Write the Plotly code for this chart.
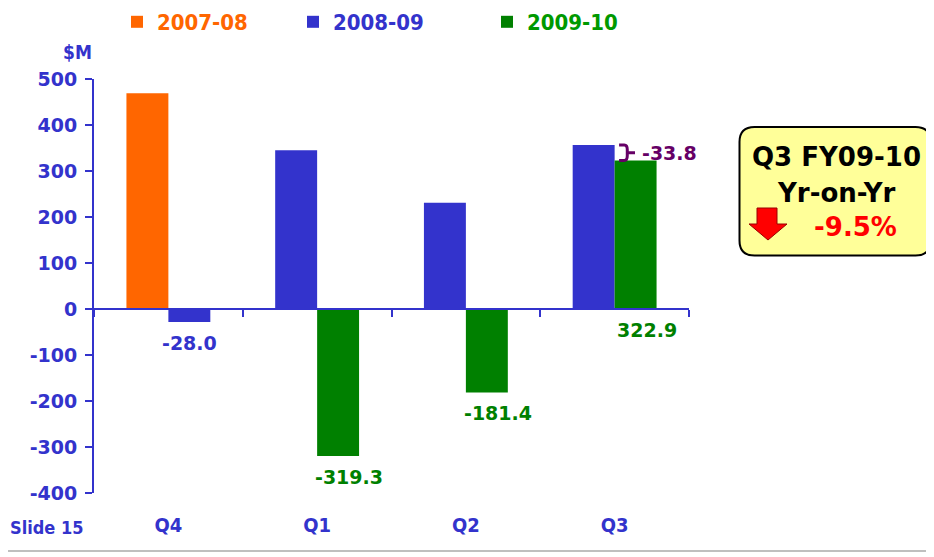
import plotly.graph_objects as go

# ---------------- data ----------------
quarters = ["Q4", "Q1", "Q2", "Q3"]
series_names = ["2007-08", "2008-09", "2009-10"]
fy0708_q = ["Q4"]
fy0708_vals = [469.0]
fy0809_q = ["Q4", "Q1", "Q2", "Q3"]
fy0809_vals = [-28.0, 345.0, 231.0, 356.7]
fy0910_q = ["Q1", "Q2", "Q3"]
fy0910_vals = [-319.3, -181.4, 322.9]
y_ticks = [500, 400, 300, 200, 100, 0, -100, -200, -300, -400]
y_tick_labels = [str(v) for v in y_ticks]
diff_label = "-33.8"
callout_lines = ["Q3 FY09-10", "Yr-on-Yr", "-9.5%"]

# ---------------- style ----------------
ORANGE = "#FF6600"
BLUE = "#3333CC"
GREEN = "#008000"
LGREEN = "#009900"
PURPLE = "#660066"
BW = 0.282  # bar width, in category units

OFF = 8  # page body margin
W, H = 934, 557
ML, MT = 94 - OFF, 79 - OFF
MR = W - (689 - OFF)
MB = H - (493 - OFF)
PW, PH = W - ML - MR, H - MT - MB


def px(x):  # page pixel -> paper
    return (x - OFF - ML) / PW


def py(y):
    return (H - MB - (y - OFF)) / PH


fig = go.Figure()
fig.add_bar(x=fy0708_q, y=fy0708_vals, name='<span style="color:%s">2007-08</span>' % ORANGE,
            marker_color=ORANGE, width=BW, offset=-BW, marker_line_width=0, legend="legend")
fig.add_bar(x=fy0809_q, y=fy0809_vals, name='<span style="color:%s">2008-09</span>' % BLUE,
            marker_color=BLUE, width=BW, offset=[0, -BW, -BW, -BW], marker_line_width=0, legend="legend2")
fig.add_bar(x=fy0910_q, y=fy0910_vals, name='<span style="color:%s">2009-10</span>' % LGREEN,
            marker_color=GREEN, width=BW, offset=0, marker_line_width=0, legend="legend3")
# helper trace so the zero-level axis (x2) knows the categories
fig.add_scatter(x=quarters, y=[None] * 4, xaxis="x2", showlegend=False, hoverinfo="skip")

ann = []
tick_font = dict(family="DejaVu Sans", size=19, color=BLUE, weight="bold")
idx = {q: i for i, q in enumerate(quarters)}
ann.append(dict(x=idx["Q4"] + BW / 2, y=fy0809_vals[0], text="%.1f" % fy0809_vals[0],
                showarrow=False, yshift=-21, font=dict(tick_font, color=BLUE)))
for q, v in zip(fy0910_q, fy0910_vals):
    yy = v if v < 0 else 0
    ann.append(dict(x=idx[q] + BW / 2, y=yy, text="%.1f" % v, showarrow=False,
                    yshift=-21, xshift=11, font=dict(tick_font, color=GREEN)))
top = fy0809_vals[3]
bot = fy0910_vals[2]
mid = (top + bot) / 2
ann.append(dict(x=3 + 0.37, y=mid, text=diff_label, showarrow=False,
                font=dict(tick_font, color=PURPLE)))
xa, xb, xc = 3.03, 3.085, 3.137
r = (top - bot) * 0.3
bracket = (f"M {xa},{top} L {xb - 0.02},{top} Q {xb},{top} {xb},{top - r} L {xb},{mid} L {xc},{mid} "
           f"M {xb},{mid} L {xb},{bot + r} Q {xb},{bot} {xb - 0.02},{bot} L {xa},{bot}")


def pann(x, y, text, font):
    return dict(xref="paper", yref="paper", x=px(x), y=py(y), xanchor="center", yanchor="middle",
                text=text, showarrow=False, font=font)


ann.append(pann(77, 52, "$M", dict(family="DejaVu Sans Condensed", size=19, color=BLUE, weight="bold")))
ann.append(pann(47, 527, "Slide 15", dict(family="DejaVu Sans Condensed", size=18, color=BLUE, weight="bold")))
ann.append(pann(836, 157, callout_lines[0], dict(family="DejaVu Sans", size=26, color="black", weight="bold")))
ann.append(pann(836, 193, callout_lines[1], dict(family="DejaVu Sans", size=26, color="black", weight="bold")))
ann.append(pann(856, 227, callout_lines[2], dict(family="DejaVu Sans", size=26, color="#FF0000", weight="bold")))


def rrect(x0, y0, x1, y1, rad):
    X0, X1 = px(x0), px(x1)
    Y0, Y1 = py(y0), py(y1)
    rx, ry = rad / PW, rad / PH
    return (f"M {X0 + rx},{Y0} L {X1 - rx},{Y0} Q {X1},{Y0} {X1},{Y0 - ry} "
            f"L {X1},{Y1 + ry} Q {X1},{Y1} {X1 - rx},{Y1} L {X0 + rx},{Y1} "
            f"Q {X0},{Y1} {X0},{Y1 + ry} L {X0},{Y0 - ry} Q {X0},{Y0} {X0 + rx},{Y0} Z")


arrow_pts = [(757, 208), (777, 208), (777, 224), (787, 224), (768, 240), (749, 224), (757, 224)]
arrow_path = "M " + " L ".join(f"{px(a)},{py(b)}" for a, b in arrow_pts) + " Z"

shapes = [
    dict(type="path", xref="paper", yref="paper", path=rrect(739.5, 127, 930.5, 255.5, 15),
         fillcolor="#FFFF99", line=dict(color="black", width=2)),
    dict(type="path", xref="paper", yref="paper", path=arrow_path,
         fillcolor="#FF0000", line=dict(color="#990000", width=1)),
    dict(type="path", xref="x", yref="y", path=bracket, line=dict(color=PURPLE, width=3)),
    dict(type="line", xref="paper", yref="paper", x0=px(0), x1=px(W + 20), y0=py(551), y1=py(551),
         line=dict(color="#AAAAAA", width=1.5)),
]

zero_pos = (0 - (-400)) / 900.0
leg_font = dict(family="DejaVu Sans Condensed", size=22, weight="bold")


def leg(xpage):
    return dict(orientation="h", xref="paper", yref="paper", x=px(xpage), y=py(1),
                xanchor="left", yanchor="top", itemclick=False, bgcolor="rgba(0,0,0,0)",
                font=leg_font)


fig.update_layout(
    width=W, height=H,
    margin=dict(l=ML, r=MR, t=MT, b=MB, pad=0, autoexpand=False),
    paper_bgcolor="white", plot_bgcolor="white",
    barmode="overlay",
    showlegend=True,
    legend=leg(117), legend2=leg(293), legend3=leg(487),
    xaxis=dict(categoryorder="array", categoryarray=quarters, range=[-0.5, 3.5],
               showline=False, showgrid=False, zeroline=False, automargin=False,
               ticks="outside", ticklen=14, tickcolor="rgba(0,0,0,0)",
               tickfont=dict(family="DejaVu Sans Condensed", size=20, color=BLUE, weight="bold")),
    xaxis2=dict(overlaying="x", anchor="free", position=zero_pos, side="bottom",
                categoryorder="array", categoryarray=quarters, range=[-0.5, 3.5],
                showline=True, linecolor=BLUE, linewidth=2, showgrid=False, zeroline=False,
                ticks="outside", tickson="boundaries", ticklen=7, tickcolor=BLUE, tickwidth=2,
                showticklabels=False, automargin=False),
    yaxis=dict(range=[-400, 500], tickvals=y_ticks, ticktext=y_tick_labels,
               showgrid=False, zeroline=False, automargin=False,
               showline=True, linecolor=BLUE, linewidth=2,
               ticks="outside", ticklen=7, tickcolor=BLUE, tickwidth=2,
               ticklabelstandoff=4, tickfont=tick_font),
    annotations=ann,
    shapes=shapes,
)

fig.write_html("out.html")
